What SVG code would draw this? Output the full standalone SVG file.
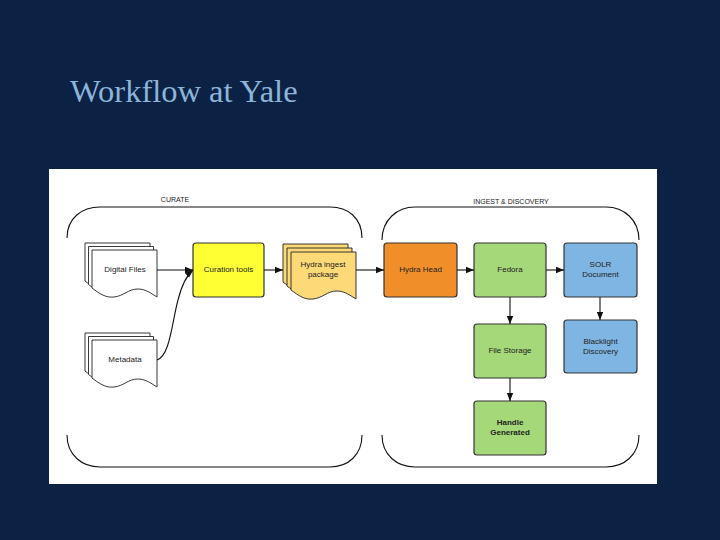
<svg xmlns="http://www.w3.org/2000/svg" width="720" height="540" viewBox="0 0 720 540">
<style>
.t{font-family:"Liberation Sans",Arial,sans-serif;font-size:8px;fill:#222;text-anchor:middle}
.b{font-weight:bold}
.box{stroke:#333;stroke-width:1.2}
.doc{stroke:#222;stroke-width:0.9}
.br{fill:none;stroke:#111;stroke-width:1.1}
.c{fill:none;stroke:#111;stroke-width:1.1}
.lbl{font-family:"Liberation Sans",Arial,sans-serif;font-size:7px;fill:#222;text-anchor:middle}
</style>
<defs>
<path id="docshape" d="M0,0 H65 V47 C60,44 54,39 46,39 C36,39 32,46 22,47 C14,48 8,44 0,38 Z"/>
<marker id="ah" viewBox="0 0 10 10" refX="10" refY="5" markerWidth="8" markerHeight="8" markerUnits="userSpaceOnUse" orient="auto">
<path d="M0,1 L10,5 L0,9 Z" fill="#111"/>
</marker>
</defs>
<rect x="0" y="0" width="720" height="540" fill="#0b2244"/>
<text x="70" y="102" font-family="'Liberation Serif','Times New Roman',serif" font-size="32.5" fill="#8db5da">Workflow at Yale</text>
<rect x="49" y="169" width="608" height="315" fill="#ffffff"/>

<g id="brackets">
<path class="br" d="M67,238 C67,218 82,207 100,207 H330 C348,207 362,218 362,238"/>
<path class="br" d="M67,435 C67,455 82,467 100,467 H330 C348,467 362,455 362,435"/>
<path class="br" d="M382,240 C382,220 397,207 415,207 H606 C624,207 639,220 639,240"/>
<path class="br" d="M382,435 C382,455 397,467 415,467 H606 C624,467 639,455 639,435"/>
<text class="lbl" x="175" y="202">CURATE</text>
<text class="lbl" x="511" y="204">INGEST &amp; DISCOVERY</text>
</g>

<g id="digital-files">
<use href="#docshape" x="85" y="243" fill="#fff" class="doc"/>
<use href="#docshape" x="88.5" y="246.5" fill="#fff" class="doc"/>
<use href="#docshape" x="92" y="250" fill="#fff" class="doc"/>
<text class="t" x="125" y="272">Digital Files</text>
</g>

<g id="metadata">
<use href="#docshape" x="85" y="333" fill="#fff" class="doc"/>
<use href="#docshape" x="88.5" y="336.5" fill="#fff" class="doc"/>
<use href="#docshape" x="92" y="340" fill="#fff" class="doc"/>
<text class="t" x="125" y="362">Metadata</text>
</g>

<g id="curation-tools">
<rect class="box" x="193" y="243" width="71" height="54" rx="3" fill="#ffff33"/>
<text class="t" x="228.5" y="272">Curation tools</text>
</g>

<g id="hydra-ingest">
<use href="#docshape" x="283" y="244" fill="#fdd978" class="doc"/>
<use href="#docshape" x="287" y="248" fill="#fdd978" class="doc"/>
<use href="#docshape" x="291" y="252" fill="#fdd978" class="doc"/>
<text class="t" x="323" y="267">Hydra ingest</text>
<text class="t" x="323" y="277">package</text>
</g>

<g id="hydra-head">
<rect class="box" x="384" y="243" width="73" height="54" rx="3" fill="#f08f2a"/>
<text class="t" x="420.5" y="272">Hydra Head</text>
</g>

<g id="fedora">
<rect class="box" x="474" y="243" width="72" height="54" rx="3" fill="#a5d878"/>
<text class="t" x="510" y="272">Fedora</text>
</g>

<g id="solr">
<rect class="box" x="564" y="243" width="73" height="54" rx="3" fill="#7fb5e2"/>
<text class="t" x="600.5" y="267">SOLR</text>
<text class="t" x="600.5" y="277">Document</text>
</g>

<g id="file-storage">
<rect class="box" x="474" y="324" width="72" height="54" rx="3" fill="#a5d878"/>
<text class="t" x="510" y="353">File Storage</text>
</g>

<g id="blacklight">
<rect class="box" x="564" y="320" width="73" height="53" rx="3" fill="#7fb5e2"/>
<text class="t" x="600.5" y="344">Blacklight</text>
<text class="t" x="600.5" y="354">Discovery</text>
</g>

<g id="handle">
<rect class="box" x="474" y="401" width="72" height="54" rx="3" fill="#a5d878"/>
<text class="t b" x="510" y="425">Handle</text>
<text class="t b" x="510" y="435">Generated</text>
</g>

<g id="connectors">
<path class="c" d="M157,270 H193" marker-end="url(#ah)"/>
<path class="c" d="M157,360 C170,356 172,322 178,300 C182,284 186,276 193,270" marker-end="url(#ah)"/>
<path class="c" d="M264,270 H283" marker-end="url(#ah)"/>
<path class="c" d="M356,270 H384" marker-end="url(#ah)"/>
<path class="c" d="M457,270 H474" marker-end="url(#ah)"/>
<path class="c" d="M546,270 H564" marker-end="url(#ah)"/>
<path class="c" d="M510,297 V324" marker-end="url(#ah)"/>
<path class="c" d="M600,297 V320" marker-end="url(#ah)"/>
<path class="c" d="M510,378 V401" marker-end="url(#ah)"/>
</g>
</svg>
